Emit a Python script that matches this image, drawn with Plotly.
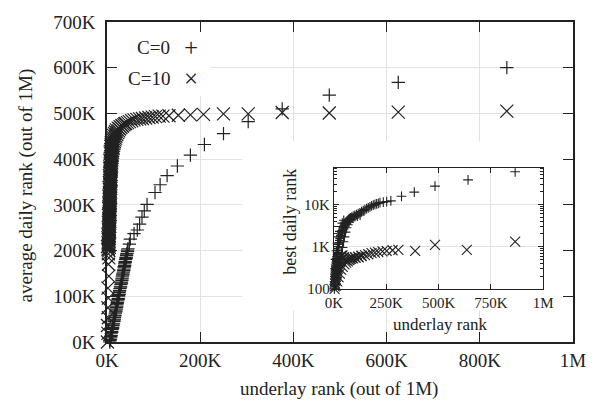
import plotly.graph_objects as go

# ---- main panel data (values in thousands of ranks) ----
c0_x = [6, 6, 7, 8, 8, 9, 9, 10, 10, 11,
        12, 12, 13, 13, 14, 15, 15, 16, 16, 17,
        17, 18, 19, 19, 20, 20, 21, 21, 22, 22,
        23, 24, 24, 25, 25, 26, 26, 27, 27, 28,
        29, 29, 30, 31, 31, 32, 32, 33, 33, 34,
        34, 35, 36, 36, 37, 37, 38, 38, 39, 39,
        40, 41, 41, 42, 42, 43, 44, 44, 45,
        48, 50, 58, 65, 70, 75, 80, 86, 103, 114, 129, 151, 179, 209, 250, 303, 376,
        477, 625, 858]
c0_y = [0, 3, 5, 9, 12, 14, 18, 21, 23, 27,
        30, 32, 36, 39, 41, 45, 48, 50, 54, 57,
        59, 63, 66, 68, 72, 75, 77, 81, 84, 86,
        90, 93, 95, 99, 102, 104, 108, 111, 113, 117,
        120, 122, 126, 129, 131, 135, 138, 140, 144, 147,
        149, 153, 156, 158, 162, 165, 167, 171, 174, 176,
        180, 183, 185, 189, 192, 194, 198, 201, 204,
        214, 225, 237, 245, 258, 273, 287, 301, 327, 344, 364, 385, 409, 432, 456, 482,
        510, 540, 568, 600]

c10_x = [1, 2, 1, 3, 2, 3, 2, 4, 3, 4, 3,
         4, 3, 5, 4, 4, 5, 4, 5, 5, 4, 5, 6, 5, 5, 6, 5, 6, 6, 5, 6,
         6, 7, 6, 6, 7, 6, 7, 7, 6, 7, 7, 8, 7, 7, 8, 7, 8, 8, 7, 8,
         8, 9, 8, 8, 9, 8, 9, 9, 9, 10, 9, 10, 10, 10, 11, 11, 11, 12, 12, 13,
         13, 14, 15, 16, 17, 18, 19, 21, 23, 25, 27, 30, 33, 36, 40, 44, 48, 53, 58,
         64, 70, 76, 83, 90, 97, 104, 112, 120, 133, 153, 179, 207, 250, 303, 376,
         477, 625, 858,
         2, 1, 3, 2, 3, 2, 3, 2, 4, 3, 3, 4, 3, 4, 4, 3, 4, 5, 4, 4,
         5, 4, 5, 5, 4, 5, 6, 5, 5, 6, 5, 6, 6, 5, 6, 7, 6, 6, 7, 7,
         6, 7, 8, 7, 7, 8, 8, 9, 9, 10, 11, 12, 14, 16, 18, 20, 24, 28, 32, 38]
c10_y = [0, 19, 36, 53, 75, 96, 118, 144, 170, 184, 193,
         200, 204, 207, 211, 215, 219, 222, 226, 230, 234, 238, 241, 245, 249, 253, 256,
         260, 264, 268, 272, 275, 279, 283, 287, 290, 294, 298, 302, 306, 309, 313, 317,
         321, 324, 328, 332, 336, 340, 343, 347, 351, 355, 358, 362, 366, 370, 374, 377,
         381, 385, 389, 392, 396, 400, 404, 408, 411, 415, 419, 423, 426, 430, 434, 438,
         442, 446, 450, 454, 458, 462, 466, 469, 472, 475, 478, 480, 482, 484, 486, 487,
         488, 489, 490, 491, 492, 493, 494, 494, 495, 496, 497, 498, 499, 499, 502, 501,
         503, 505,
         202, 209, 213, 217, 224, 228, 232, 236, 243, 247, 251, 258, 262, 266, 270, 277,
         281, 285, 292, 296, 300, 304, 311, 315, 319, 326, 330, 334, 338, 345, 349, 353,
         360, 364, 368, 372, 379, 383, 387, 394, 398, 402, 406, 413, 417, 421, 428, 432,
         436, 440, 444, 448, 452, 456, 460, 464, 468, 471, 474, 477]

# ---- inset data (x in thousands, y = best daily rank) ----
ins_c0_x = [2, 3, 4, 5, 6, 7, 8, 9, 10, 11, 12, 13, 14, 15, 16, 17, 18, 19, 20,
            22, 24, 26, 28, 30, 32, 34, 36, 38, 40, 43, 46, 49, 52, 55, 58, 62, 66, 70, 74,
            79, 85, 92, 100, 108, 116, 124, 132, 140, 148, 156, 164, 172, 180, 188, 196,
            204, 212, 220, 236, 252, 272, 323, 384, 483, 641, 866,
            9, 14, 20, 26, 31, 36, 41, 46, 50, 55, 60, 66, 72, 80, 90, 100, 112, 125,
            5, 8, 12, 17, 22, 28, 34, 40, 47]
ins_c0_y = [100, 115, 130, 150, 170, 195, 220, 250, 285, 320, 360, 410, 460, 520, 580,
            650, 720, 800, 880, 1000, 1120, 1250, 1400, 1550, 1700, 1850, 2000, 2200, 2400,
            2600, 2850, 3100, 3300, 3500, 3750, 4000, 4200, 4400, 4600, 4800, 5000, 5250,
            5500, 5700, 6000, 6300, 6700, 7100, 7500, 7900, 8300, 8700, 9200, 9600, 10000,
            10300, 10600, 11000, 11300, 11600, 12100, 15500, 19500, 27000, 38000, 59000,
            130, 180, 260, 360, 500, 700, 950, 1300, 1700, 2200, 2800, 3300, 3800, 4300,
            4700, 5100, 5300, 5600,
            300, 500, 800, 1200, 1700, 2300, 3000, 3600, 4200]

ins_c10_x = [3, 4, 5, 6, 7, 8, 9, 10, 11, 12, 13, 14, 15, 16, 18, 20, 22, 25, 28, 32,
             36, 41, 47, 53, 60, 68, 76, 85, 100, 116, 132, 148, 164, 180, 196, 212, 232,
             252, 280, 308, 388, 483, 635, 866,
             10, 16, 22, 28, 35, 42, 50, 58, 66, 74, 82, 92, 104, 118, 132]
ins_c10_y = [100, 115, 135, 155, 175, 195, 215, 240, 265, 290, 320, 350, 380, 410, 440,
             470, 500, 530, 560, 590, 610, 620, 560, 490, 470, 500, 520, 540, 560, 580,
             610, 630, 660, 700, 720, 740, 770, 790, 820, 840, 790, 1100, 840, 1310,
             120, 150, 190, 230, 280, 330, 380, 420, 450, 480, 510, 530, 550, 560, 600]

# ---- tick labels ----
main_xticks = [0, 200, 400, 600, 800, 1000]
main_xtext = ["0K", "200K", "400K", "600K", "800K", "1M"]
main_yticks = [0, 100, 200, 300, 400, 500, 600, 700]
main_ytext = ["0K", "100K", "200K", "300K", "400K", "500K", "600K", "700K"]
ins_xticks = [0, 250, 500, 750, 1000]
ins_xtext = ["0K", "250K", "500K", "750K", "1M"]
ins_yticks = [100, 1000, 10000]
ins_ytext = ["100", "1K", "10K"]

series_names = ["C=0", "C=10"]
legend_glyphs = ["+", "×"]

X_RANGE = [0, 1000]
Y_RANGE = [0, 700]

FONT = "Liberation Serif"
INK = "#222222"
GRID = "#e2e2e2"

fig = go.Figure()
fig.add_trace(go.Scatter(x=c0_x, y=c0_y, mode="markers", name=series_names[0],
                         marker=dict(symbol="cross-thin", size=9.5, color=INK,
                                     line=dict(width=1.2, color=INK)),
                         cliponaxis=False, showlegend=False))
fig.add_trace(go.Scatter(x=c10_x, y=c10_y, mode="markers", name=series_names[1],
                         marker=dict(symbol="x-thin", size=13, color=INK,
                                     line=dict(width=1.2, color=INK)),
                         cliponaxis=False, showlegend=False))
fig.add_trace(go.Scatter(x=ins_c0_x, y=ins_c0_y, mode="markers", name=series_names[0],
                         xaxis="x2", yaxis="y2",
                         marker=dict(symbol="cross-thin", size=7, color=INK,
                                     line=dict(width=1.1, color=INK)),
                         cliponaxis=False, showlegend=False))
fig.add_trace(go.Scatter(x=ins_c10_x, y=ins_c10_y, mode="markers", name=series_names[1],
                         xaxis="x2", yaxis="y2",
                         marker=dict(symbol="x-thin", size=10, color=INK,
                                     line=dict(width=1.1, color=INK)),
                         cliponaxis=False, showlegend=False))

axis_common = dict(showline=True, linecolor=INK, mirror="ticks", ticks="inside",
                   tickcolor=INK, showgrid=True, gridcolor=GRID, gridwidth=1,
                   zeroline=False, tickmode="array")


def frac_x(f):
    return X_RANGE[0] + f * (X_RANGE[1] - X_RANGE[0])


def frac_y(f):
    return Y_RANGE[0] + f * (Y_RANGE[1] - Y_RANGE[0])


fig.update_layout(
    width=599, height=408,
    margin=dict(l=107, r=26, t=17, b=66),
    paper_bgcolor="white", plot_bgcolor="white",
    font=dict(family=FONT, size=19, color=INK),
    xaxis=dict(range=X_RANGE, tickvals=main_xticks, ticktext=main_xtext,
               ticklen=10, linewidth=1.5, tickwidth=1.2,
               tickfont=dict(size=19), **axis_common),
    yaxis=dict(range=Y_RANGE, tickvals=main_yticks, ticktext=main_ytext,
               ticklen=10, linewidth=1.5, tickwidth=1.2, ticklabelstandoff=6,
               tickfont=dict(size=19), **axis_common),
    xaxis2=dict(anchor="y2", domain=[0.487, 0.936], range=X_RANGE,
                tickvals=ins_xticks, ticktext=ins_xtext, ticklen=5, linewidth=1.2,
                tickwidth=1, tickfont=dict(size=15), **axis_common),
    yaxis2=dict(anchor="x2", domain=[0.166, 0.545], type="log", range=[2, 4.87],
                tickvals=ins_yticks, ticktext=ins_ytext, ticklen=5, linewidth=1.2,
                tickwidth=1, tickfont=dict(size=15),
                minor=dict(ticks="inside", ticklen=3, tickcolor=INK, dtick="D1",
                           showgrid=False),
                **axis_common),
    shapes=[
        # white backing behind the inset (hides main grid lines)
        dict(type="rect", xref="x", yref="y", x0=frac_x(0.29), x1=frac_x(1.0),
             y0=frac_y(0.098), y1=frac_y(0.628), fillcolor="white",
             line=dict(width=0), layer="between"),
        # white backing behind the key
        dict(type="rect", xref="x", yref="y", x0=frac_x(0.0), x1=frac_x(0.221),
             y0=frac_y(0.769), y1=frac_y(1.0), fillcolor="white",
             line=dict(width=0), layer="between"),
    ],
    annotations=[
        dict(text="underlay rank (out of 1M)", xref="paper", yref="paper",
             x=0.498, y=-0.148, xanchor="center", yanchor="middle",
             showarrow=False, font=dict(size=19)),
        dict(text="average daily rank (out of 1M)", xref="paper", yref="paper",
             x=-0.174, y=0.489, xanchor="center", yanchor="middle", textangle=-90,
             showarrow=False, font=dict(size=19)),
        dict(text="underlay rank", xref="paper", yref="paper",
             x=0.715, y=0.055, xanchor="center", yanchor="middle",
             showarrow=False, font=dict(size=17)),
        dict(text="best daily rank", xref="paper", yref="paper",
             x=0.392, y=0.375, xanchor="center", yanchor="middle", textangle=-90,
             showarrow=False, font=dict(size=18)),
        dict(text=series_names[0], xref="paper", yref="paper",
             x=0.139, y=0.92, xanchor="right", yanchor="middle",
             showarrow=False, font=dict(size=19)),
        dict(text=series_names[1], xref="paper", yref="paper",
             x=0.139, y=0.822, xanchor="right", yanchor="middle",
             showarrow=False, font=dict(size=19)),
        dict(text=legend_glyphs[0], xref="paper", yref="paper",
             x=0.180, y=0.92, xanchor="center", yanchor="middle",
             showarrow=False, font=dict(size=25, family=FONT, color=INK)),
        dict(text=legend_glyphs[1], xref="paper", yref="paper",
             x=0.180, y=0.822, xanchor="center", yanchor="middle",
             showarrow=False, font=dict(size=25, family=FONT, color=INK)),
    ],
)

fig.write_html("out.html")
